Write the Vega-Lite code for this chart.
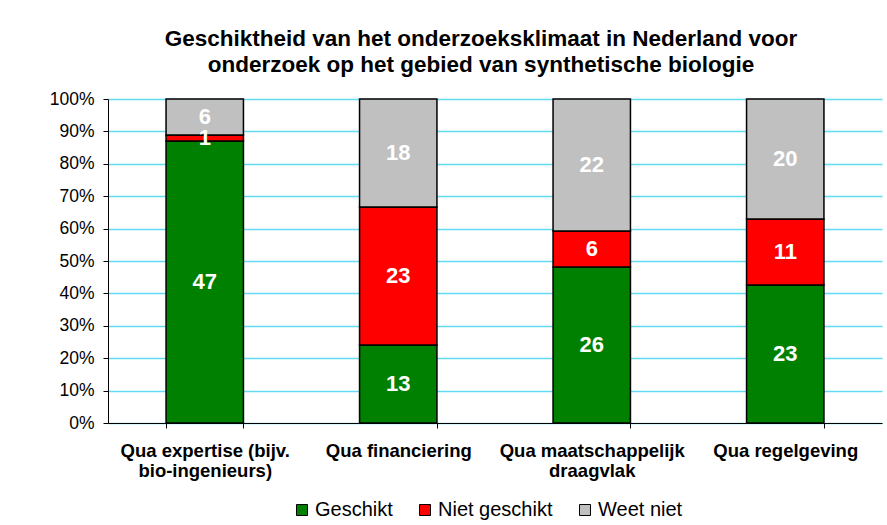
{
  "$schema": "https://vega.github.io/schema/vega-lite/v6.json",
  "autosize": "none",
  "width": 774,
  "height": 324,
  "padding": {"left": 108, "top": 99, "right": 5, "bottom": 102},
  "background": "white",
  "config": {
    "font": "Liberation Sans",
    "view": {"stroke": null},
    "axisY": {
      "title": null,
      "format": ".0%",
      "values": [0, 0.1, 0.2, 0.3, 0.4, 0.5, 0.6, 0.7, 0.8, 0.9, 1],
      "labelOverlap": false,
      "labelFontSize": 17.5,
      "labelColor": "black",
      "labelPadding": 9,
      "tickColor": "black",
      "tickSize": 5,
      "domainColor": "black",
      "grid": true,
      "gridColor": "#66D9F5",
      "gridWidth": 1.5,
      "gridOpacity": 1
    }
  },
  "title": {
    "text": ["Geschiktheid van het onderzoeksklimaat in Nederland voor", "onderzoek op het gebied van synthetische biologie"],
    "fontSize": 22.5,
    "fontWeight": "bold",
    "lineHeight": 26,
    "color": "black",
    "anchor": "middle",
    "dx": -14,
    "offset": 14
  },
  "data": {
    "values": [
      {"cat": "Qua expertise (bijv.|bio-ingenieurs)", "ci": 0, "serie": "Geschikt", "si": 0, "n": 47},
      {"cat": "Qua expertise (bijv.|bio-ingenieurs)", "ci": 0, "serie": "Niet geschikt", "si": 1, "n": 1},
      {"cat": "Qua expertise (bijv.|bio-ingenieurs)", "ci": 0, "serie": "Weet niet", "si": 2, "n": 6},
      {"cat": "Qua financiering", "ci": 1, "serie": "Geschikt", "si": 0, "n": 13},
      {"cat": "Qua financiering", "ci": 1, "serie": "Niet geschikt", "si": 1, "n": 23},
      {"cat": "Qua financiering", "ci": 1, "serie": "Weet niet", "si": 2, "n": 18},
      {"cat": "Qua maatschappelijk|draagvlak", "ci": 2, "serie": "Geschikt", "si": 0, "n": 26},
      {"cat": "Qua maatschappelijk|draagvlak", "ci": 2, "serie": "Niet geschikt", "si": 1, "n": 6},
      {"cat": "Qua maatschappelijk|draagvlak", "ci": 2, "serie": "Weet niet", "si": 2, "n": 22},
      {"cat": "Qua regelgeving", "ci": 3, "serie": "Geschikt", "si": 0, "n": 23},
      {"cat": "Qua regelgeving", "ci": 3, "serie": "Niet geschikt", "si": 1, "n": 11},
      {"cat": "Qua regelgeving", "ci": 3, "serie": "Weet niet", "si": 2, "n": 20}
    ]
  },
  "transform": [
    {"stack": "n", "groupby": ["cat"], "sort": [{"field": "si", "order": "ascending"}], "offset": "normalize", "as": ["y0", "y1"]},
    {"calculate": "(datum.y0 + datum.y1) / 2", "as": "ymid"}
  ],
  "encoding": {
    "x": {
      "field": "cat",
      "type": "nominal",
      "sort": {"field": "ci"},
      "scale": {"paddingInner": 0.6, "paddingOuter": 0.3},
      "axis": {
        "title": null,
        "labelAngle": 0,
        "labelExpr": "split(datum.label, '|')",
        "labelFontSize": 18.5,
        "labelFontWeight": "bold",
        "labelColor": "black",
        "labelLineHeight": 20,
        "labelPadding": 13,
        "labelBaseline": "top",
        "labelLimit": 300,
        "tickBand": "extent",
        "tickColor": "black",
        "tickSize": 5,
        "domainColor": "black",
        "domainWidth": 1,
        "grid": false
      }
    }
  },
  "layer": [
    {
      "mark": {"type": "bar", "stroke": "black", "strokeWidth": 1.5},
      "encoding": {
        "y": {
          "field": "y0",
          "type": "quantitative",
          "scale": {"domain": [0, 1], "nice": false}
        },
        "y2": {"field": "y1"},
        "color": {
          "field": "serie",
          "type": "nominal",
          "sort": ["Geschikt", "Niet geschikt", "Weet niet"],
          "scale": {"domain": ["Geschikt", "Niet geschikt", "Weet niet"], "range": ["#008000", "#FF0000", "#C0C0C0"]},
          "legend": {
            "title": null,
            "orient": "none",
            "legendX": 184,
            "legendY": 401,
            "direction": "horizontal",
            "symbolType": "square",
            "symbolSize": 121,
            "symbolStrokeColor": "black",
            "symbolStrokeWidth": 1,
            "symbolOpacity": 1,
            "labelFontSize": 20,
            "labelColor": "black",
            "labelOffset": 3,
            "columnPadding": 22
          }
        }
      }
    },
    {
      "mark": {"type": "text", "color": "white", "fontSize": 22, "fontWeight": "bold", "baseline": "middle", "align": "center"},
      "encoding": {
        "y": {"field": "ymid", "type": "quantitative"},
        "text": {"field": "n", "type": "quantitative"}
      }
    }
  ]
}
